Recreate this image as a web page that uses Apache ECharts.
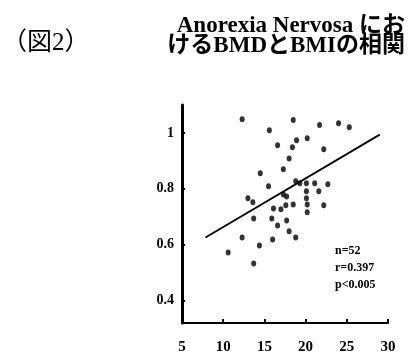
<!DOCTYPE html>
<html><head><meta charset="utf-8">
<script src="https://cdn.jsdelivr.net/npm/echarts@6/dist/echarts.min.js"></script>
<style>html,body{margin:0;padding:0;background:#fff}#c{width:410px;height:357px}</style>
</head><body><div id="c"></div>
<script>
const bmi = [12.3,15.6,18.5,21.7,24.0,25.3,18.9,20.2,16.6,18.4,18.0,22.2,17.3,14.5,15.5,18.8,19.3,20.1,21.1,21.6,22.7,20.1,20.1,20.2,20.2,22.2,17.3,17.7,18.5,17.6,17.0,16.1,13.6,13.0,13.7,15.9,17.7,16.6,18.0,18.8,16.0,14.4,12.3,10.6,13.7];
const bmd = [1.049,1.010,1.046,1.028,1.035,1.020,0.974,0.981,0.956,0.949,0.909,0.942,0.870,0.856,0.809,0.827,0.820,0.820,0.820,0.791,0.816,0.791,0.766,0.744,0.716,0.741,0.780,0.773,0.744,0.741,0.727,0.730,0.752,0.766,0.694,0.694,0.687,0.669,0.648,0.626,0.619,0.597,0.626,0.572,0.533];
const fitX = [7.85, 29.0];
const fitY = [0.626, 0.994];
const yTickValues = [0.4, 0.6, 0.8, 1];
const xTickValues = [5, 10, 15, 20, 25, 30];
const statsLines = ['n=52', 'r=0.397', 'p<0.005'];
const titleLeft = '（図2）';
const titleLine1 = 'Anorexia Nervosa にお';
const titleLine2 = 'けるBMDとBMIの相関';

const SERIF = '"Liberation Serif","DejaVu Serif","Noto Sans CJK JP",serif';
const chart = echarts.init(document.getElementById('c'), null, {renderer: 'canvas'});
chart.setOption({
  animation: false,
  backgroundColor: '#fff',
  grid: {left: 182, right: 22, top: 105, bottom: 34},
  xAxis: {
    type: 'value', min: 5, max: 30, interval: 5,
    axisLine: {lineStyle: {color: '#000', width: 2}},
    axisTick: {inside: true, length: 4, lineStyle: {color: '#000', width: 2}, customValues: xTickValues},
    axisLabel: {customValues: xTickValues, color: '#000', fontFamily: SERIF, fontWeight: 'bold', fontSize: 15, margin: 17},
    splitLine: {show: false}
  },
  yAxis: {
    type: 'value', min: 0.32, max: 1.1,
    axisLine: {show: true, lineStyle: {color: '#000', width: 3}},
    axisTick: {show: true, inside: true, length: 3, lineStyle: {color: '#000', width: 2}, customValues: yTickValues},
    axisLabel: {customValues: yTickValues, color: '#000', fontFamily: SERIF, fontWeight: 'bold', fontSize: 14, margin: 8,
      formatter: v => (Math.abs(v - 1) < 1e-9 ? '1' : v.toFixed(1))},
    splitLine: {show: false}
  },
  series: [
    {type: 'scatter', data: bmi.map((x, i) => [x, bmd[i]]), symbol: 'circle', symbolSize: [5, 6],
     itemStyle: {color: '#000'}, silent: true},
    {type: 'line', data: fitX.map((x, i) => [x, fitY[i]]), symbol: 'none',
     lineStyle: {color: '#000', width: 1.8}, silent: true}
  ],
  graphic: [
    {type: 'text', left: 2, top: 31, style: {text: titleLeft, font: '25px ' + SERIF, fill: '#000'}},
    {type: 'text', right: 5, top: 15, style: {text: titleLine1, font: 'bold 23px ' + SERIF, fill: '#000'}},
    {type: 'text', right: 5, top: 35, style: {text: titleLine2, font: 'bold 23px ' + SERIF, fill: '#000'}},
    {type: 'text', left: 335, top: 245, style: {text: statsLines[0], font: 'bold 12px ' + SERIF, fill: '#000'}},
    {type: 'text', left: 335, top: 262, style: {text: statsLines[1], font: 'bold 12px ' + SERIF, fill: '#000'}},
    {type: 'text', left: 335, top: 279, style: {text: statsLines[2], font: 'bold 12px ' + SERIF, fill: '#000'}}
  ]
});
</script></body></html>
